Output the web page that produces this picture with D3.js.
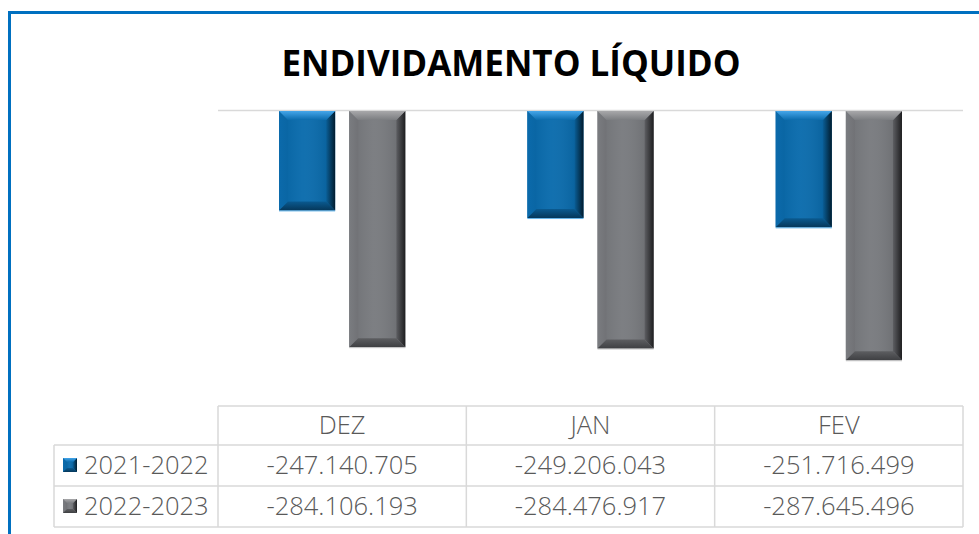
<!DOCTYPE html>
<html>
<head>
<meta charset="utf-8">
<script src="https://cdn.jsdelivr.net/npm/d3@7"></script>
<style>
  html, body { margin: 0; padding: 0; background: #fff; }
  svg { display: block; }
</style>
</head>
<body>
<svg id="chart" width="979" height="534"></svg>
<script>
'use strict';
var categories = ['DEZ', 'JAN', 'FEV'];
var seriesNames = ['2021-2022', '2022-2023'];
var values2021 = [-247140705, -249206043, -251716499];
var values2022 = [-284106193, -284476917, -287645496];
var yTicks = [-220000000, -300000000]; // axis max / min as in the source

var W = 979, H = 534,
    plot = {left: 218, right: 963, top: 110, bottom: 406},
    rowH = [39, 41, 41],
    legendLeft = 54;

var locale = d3.formatLocale({decimal: ',', thousands: '.', grouping: [3], currency: ['R$', ''], minus: '-'});
var fmt = locale.format(',d');

var svg = d3.select('#chart');
var defs = svg.append('defs');

// frame
svg.append('rect')
    .attr('x', 9.5).attr('y', 12.5).attr('width', W + 20).attr('height', H + 20)
    .attr('fill', 'none').attr('stroke', '#0070c0').attr('stroke-width', 3);

svg.append('text')
    .attr('x', 511).attr('y', 76)
    .attr('text-anchor', 'middle')
    .attr('font-family', 'Open Sans, sans-serif')
    .attr('font-weight', 700)
    .attr('font-size', 35)
    .attr('fill', '#000')
    .text('ENDIVIDAMENTO LÍQUIDO');

var x0 = d3.scaleBand().domain(categories).range([plot.left, plot.right]);
var x1 = d3.scaleBand().domain(seriesNames).range([0, x0.bandwidth()])
    .paddingInner(0.2).paddingOuter(0.87);
var y = d3.scaleLinear().domain(yTicks).range([plot.top, plot.bottom]);

// top gridline (axis max)
svg.append('line')
    .attr('x1', plot.left).attr('x2', plot.right)
    .attr('y1', y(yTicks[0]) + 0.5).attr('y2', y(yTicks[0]) + 0.5)
    .attr('stroke', '#d9d9d9').attr('stroke-width', 1.5);

var palettes = {
    '2021-2022': {id: 'b', face: '#0b6cad', top: ['#0b6cad', '#45a6ea'], left: ['#0a66a4', '#0b6aab'],
        right: ['#0a5e96', '#011c2e'], bottom: ['#0a5a90', '#05375a'], edge: '#5fb0e6'},
    '2022-2023': {id: 'g', face: '#797b7f', top: ['#7b7d81', '#a8a8aa'], left: ['#717276', '#7a7c80'],
        right: ['#5d5e62', '#1e1e20'], bottom: ['#5d5e61', '#3e3f42'], edge: '#c8c8c8'}
};

function grad(id, dir, c) {
    // dir: gradient runs from inner colour c[0] towards outer colour c[1]
    var v = {top: [0, 1, 0, 0], bottom: [0, 0, 0, 1], left: [1, 0, 0, 0], right: [0, 0, 1, 0]}[dir];
    var g = defs.append('linearGradient').attr('id', id)
        .attr('x1', v[0]).attr('y1', v[1]).attr('x2', v[2]).attr('y2', v[3]);
    g.append('stop').attr('offset', 0).attr('stop-color', c[0]);
    g.append('stop').attr('offset', 1).attr('stop-color', c[1]);
}
Object.keys(palettes).forEach(function(k) {
    var p = palettes[k];
    ['top', 'bottom', 'left', 'right'].forEach(function(side) { grad(p.id + side, side, p[side]); });
});

function bevel(g, x, yy, w, h, p, b) {
    var bx = Math.min(b, w / 3), by = Math.min(b, h / 3);
    var x2 = x + w, y2 = yy + h;
    g.append('rect').attr('x', x).attr('y', yy).attr('width', w).attr('height', h).attr('fill', p.face);
    g.append('polygon').attr('fill', 'url(#' + p.id + 'left)')
        .attr('points', [[x, yy], [x + bx, yy + by], [x + bx, y2 - by], [x, y2]].join(' '));
    g.append('polygon').attr('fill', 'url(#' + p.id + 'right)')
        .attr('points', [[x2, yy], [x2 - bx, yy + by], [x2 - bx, y2 - by], [x2, y2]].join(' '));
    g.append('polygon').attr('fill', 'url(#' + p.id + 'top)')
        .attr('points', [[x, yy], [x2, yy], [x2 - bx, yy + by], [x + bx, yy + by]].join(' '));
    g.append('polygon').attr('fill', 'url(#' + p.id + 'bottom)')
        .attr('points', [[x, y2], [x2, y2], [x2 - bx, y2 - by], [x + bx, y2 - by]].join(' '));
    g.append('rect').attr('x', x + bx).attr('y', yy + by).attr('width', w - 2 * bx).attr('height', h - 2 * by)
        .attr('fill', 'url(#sheen)');
}

var sheen = defs.append('linearGradient').attr('id', 'sheen').attr('x1', 0).attr('x2', 1).attr('y1', 0).attr('y2', 0);
sheen.append('stop').attr('offset', 0).attr('stop-color', '#000').attr('stop-opacity', 0.04);
sheen.append('stop').attr('offset', 0.4).attr('stop-color', '#fff').attr('stop-opacity', 0.03);
sheen.append('stop').attr('offset', 1).attr('stop-color', '#000').attr('stop-opacity', 0.08);

var seriesData = [values2021, values2022];
var bars = svg.append('g').attr('class', 'bars');
categories.forEach(function(cat, i) {
    seriesNames.forEach(function(s, j) {
        var v = seriesData[j][i];
        var bx = x0(cat) + x1(s), top = y(yTicks[0]) + 1, h = y(v) - top;
        var g = bars.append('g').attr('class', 'bar');
        bevel(g, bx, top, x1.bandwidth(), h, palettes[s], 9);
        g.append('line').attr('x1', bx).attr('x2', bx + x1.bandwidth())
            .attr('y1', top + h + 0.5).attr('y2', top + h + 0.5)
            .attr('stroke', palettes[s].edge).attr('stroke-width', 1);
    });
});

// data table
var tbl = svg.append('g').attr('class', 'table').attr('font-family', 'Open Sans, sans-serif')
    .attr('fill', '#595959');
var t0 = plot.bottom, t1 = t0 + rowH[0], t2 = t1 + rowH[1], t3 = t2 + rowH[2];
var grid = tbl.append('g').attr('stroke', '#d9d9d9').attr('stroke-width', 1.5).attr('fill', 'none');
grid.append('line').attr('x1', plot.left).attr('x2', plot.right).attr('y1', t0).attr('y2', t0);
[t1, t2, t3].forEach(function(yy) {
    grid.append('line').attr('x1', legendLeft).attr('x2', plot.right).attr('y1', yy).attr('y2', yy);
});
grid.append('line').attr('x1', legendLeft).attr('x2', legendLeft).attr('y1', t1).attr('y2', t3);
categories.concat([null]).forEach(function(cat) {
    var xx = cat ? x0(cat) : plot.right;
    grid.append('line').attr('x1', xx).attr('x2', xx).attr('y1', t0).attr('y2', t3);
});

var FS = 25.5;
tbl.selectAll('text.cat').data(categories).enter().append('text')
    .attr('class', 'cat')
    .attr('x', function(d) { return x0(d) + x0.bandwidth() / 2; })
    .attr('y', 434)
    .attr('text-anchor', 'middle')
    .attr('font-size', FS).attr('font-weight', 300)
    .text(function(d) { return d; });

var rowBase = [474, 515];
seriesNames.forEach(function(s, j) {
    var sw = tbl.append('g');
    bevel(sw, 63, rowBase[j] - 16, 14, 14, palettes[s], 4);
    tbl.append('text').attr('x', 84).attr('y', rowBase[j])
        .attr('font-size', FS).attr('font-weight', 300)
        .text(s);
    tbl.selectAll('text.v' + j).data(seriesData[j]).enter().append('text')
        .attr('class', 'v' + j)
        .attr('x', function(d, i) { return x0(categories[i]) + x0.bandwidth() / 2; })
        .attr('y', rowBase[j])
        .attr('text-anchor', 'middle')
        .attr('font-size', FS).attr('font-weight', 300)
        .text(function(d) { return fmt(d); });
});
</script>
</body>
</html>
